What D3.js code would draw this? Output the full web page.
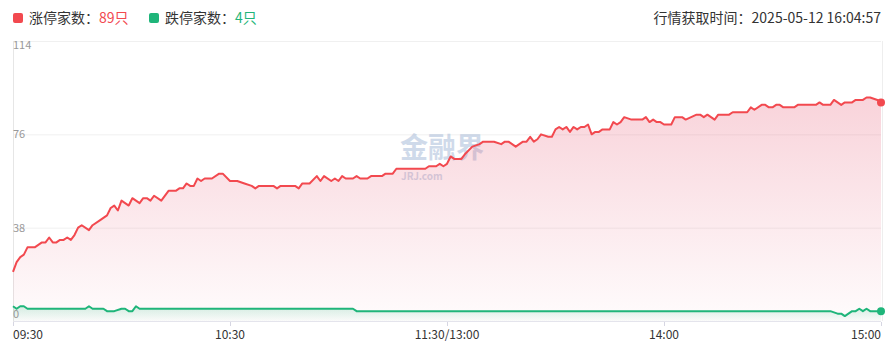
<!DOCTYPE html>
<html>
<head>
<meta charset="utf-8">
<script src="https://cdn.jsdelivr.net/npm/d3@7"></script>
<style>
    body { margin: 0; background: #fff; }
    svg text { font-family: "Noto Sans CJK SC", "Noto Sans", sans-serif; }
</style>
</head>
<body>
<div class="wrapper"></div>
<script>
let width = 891;
let height = 354;

// minutes since 09:30 (trading time, lunch break removed)
let upMinutes = [0, 1, 2, 3, 4, 6, 8, 9, 10, 11, 12, 13, 14, 15, 16, 17, 18, 19, 21, 22, 24, 26, 27, 28, 29, 30,
    32, 33, 35, 36, 37, 38, 39, 41, 43, 45, 46, 47, 48, 49, 50, 51, 52, 53, 55, 57, 58, 60, 62, 64, 66, 67, 68,
    72, 73, 74, 78, 79, 80, 82, 84, 85, 86, 88, 89, 90, 91, 92, 94, 95, 96, 98, 99, 102, 103, 105, 106, 114, 115,
    117, 118, 119, 120, 121, 122, 124, 125, 127, 129, 130, 133, 135, 136, 137, 139, 141, 142, 143, 144, 145, 146,
    148, 149, 150, 151, 152, 153, 154, 155, 156, 157, 158, 159, 160, 161, 162, 163, 165, 166, 167, 168, 169, 171,
    172, 174, 175, 176, 177, 178, 179, 180, 182, 183, 185, 186, 189, 190, 191, 192, 193, 194, 195, 198, 199, 203,
    204, 205, 207, 208, 209, 210, 211, 212, 213, 216, 217, 222, 223, 224, 226, 227, 228, 229, 230, 232, 233, 235,
    236, 237, 239, 240];
let upCounts = [20, 24, 26, 27, 30, 30, 32, 32, 34, 32, 32, 33, 33, 34, 33, 35, 38, 39, 37, 39, 41, 43, 46, 47, 45, 49,
    47, 50, 48, 50, 50, 49, 51, 49, 53, 53, 54, 54, 56, 55, 55, 58, 57, 58, 58, 60, 60, 57, 57, 56, 55, 54, 55,
    55, 54, 55, 55, 54, 56, 56, 59, 57, 59, 57, 58, 57, 59, 58, 58, 59, 58, 58, 59, 59, 60, 60, 62, 62, 63,
    63, 64, 63, 64, 67, 66, 66, 68, 71, 72, 73, 73, 72, 73, 73, 71, 73, 73, 75, 73, 74, 76,
    75, 75, 78, 79, 78, 79, 77, 79, 78, 79, 79, 80, 76, 77, 77, 78, 78, 81, 80, 81, 83, 82,
    82, 82, 83, 81, 82, 81, 81, 80, 80, 83, 83, 82, 84, 84, 83, 84, 83, 82, 84, 84, 85, 85,
    87, 86, 88, 88, 87, 87, 88, 88, 87, 87, 88, 88, 89, 88, 88, 90, 89, 88, 89, 89, 90, 90,
    91, 91, 90, 89];

let downMinutes = [0, 1, 2, 3, 4, 20, 21, 22, 25, 26, 28, 30, 31, 32, 33, 34, 35, 94, 95, 226, 228, 229, 230, 231,
    232, 233, 234, 235, 236, 237, 239, 240];
let downCounts = [6, 5, 6, 6, 5, 5, 6, 5, 5, 4, 4, 5, 5, 4, 4, 6, 5, 5, 4, 4, 3, 3, 2, 3,
    4, 4, 5, 4, 5, 4, 4, 4];

let timeTicks = [0, 60, 120, 180, 240];
let timeLabels = ["09:30", "10:30", "11:30/13:00", "14:00", "15:00"];
let valueTicks = [0, 38, 76, 114];

let upLabel = "涨停家数：";
let downLabel = "跌停家数：";
let upTotal = "89只";
let downTotal = "4只";
let updateText = "行情获取时间：2025-05-12 16:04:57";

let red = "#f2494f";
let green = "#1fb57a";

let svg = d3.select(".wrapper")
    .append("svg")
    .attr("width", width)
    .attr("height", height);

let x = d3.scaleLinear().domain([0, 240]).range([13, 881]);
let y = d3.scaleLinear().domain([0, 114]).range([321, 41]);

// gradients
let defs = svg.append("defs");
let redGrad = defs.append("linearGradient")
    .attr("id", "redFill")
    .attr("gradientUnits", "userSpaceOnUse")
    .attr("x1", 0).attr("x2", 0)
    .attr("y1", y(114)).attr("y2", y(0));
redGrad.append("stop").attr("offset", "0%").attr("stop-color", "#e8607a").attr("stop-opacity", 0.34);
redGrad.append("stop").attr("offset", "100%").attr("stop-color", "#e8607a").attr("stop-opacity", 0.02);

let greenGrad = defs.append("linearGradient")
    .attr("id", "greenFill")
    .attr("gradientUnits", "userSpaceOnUse")
    .attr("x1", 0).attr("x2", 0)
    .attr("y1", y(7)).attr("y2", y(0));
greenGrad.append("stop").attr("offset", "0%").attr("stop-color", green).attr("stop-opacity", 0.22);
greenGrad.append("stop").attr("offset", "100%").attr("stop-color", green).attr("stop-opacity", 0.02);

// grid
svg.append("g")
    .selectAll("line")
    .data(valueTicks)
    .enter()
    .append("line")
    .attr("x1", x(0))
    .attr("x2", x(240))
    .attr("y1", function (d) {return y(d) + 0.5})
    .attr("y2", function (d) {return y(d) + 0.5})
    .attr("stroke", function (d) {return d === 0 ? "#e4e4ec" : "#f0f0f0"});

svg.append("line")
    .attr("x1", x(0) + 0.5).attr("x2", x(0) + 0.5)
    .attr("y1", y(114)).attr("y2", y(0) + 5)
    .attr("stroke", "#e6e6e6");
svg.append("line")
    .attr("x1", x(240) + 1.5).attr("x2", x(240) + 1.5)
    .attr("y1", y(114)).attr("y2", y(0))
    .attr("stroke", "#eeeeee");

// watermark
let mark = svg.append("g").attr("opacity", 0.55);
mark.append("text")
    .attr("x", 400).attr("y", 158)
    .attr("font-size", 28).attr("font-weight", "bold")
    .attr("fill", "#a9bcd9")
    .text("金融界");
mark.append("text")
    .attr("x", 401).attr("y", 180)
    .attr("font-size", 10).attr("font-weight", "bold")
    .attr("fill", "#a9bcd9")
    .text("JRJ.com");

// areas
let upData = upMinutes.map(function (m, i) {return {m: m, v: upCounts[i]}});
let downData = downMinutes.map(function (m, i) {return {m: m, v: downCounts[i]}});

let area = d3.area()
    .x(function (d) {return x(d.m)})
    .y0(y(0))
    .y1(function (d) {return y(d.v)});
let line = d3.line()
    .x(function (d) {return x(d.m)})
    .y(function (d) {return y(d.v)});

svg.append("path").attr("d", area(upData)).attr("fill", "url(#redFill)");
svg.append("path").attr("d", area(downData)).attr("fill", "url(#greenFill)");

svg.append("path")
    .attr("d", line(upData))
    .attr("fill", "none")
    .attr("stroke", red)
    .attr("stroke-width", 2)
    .attr("stroke-linejoin", "round");
svg.append("path")
    .attr("d", line(downData))
    .attr("fill", "none")
    .attr("stroke", green)
    .attr("stroke-width", 2)
    .attr("stroke-linejoin", "round");

svg.append("circle")
    .attr("cx", x(upData[upData.length - 1].m))
    .attr("cy", y(upData[upData.length - 1].v))
    .attr("r", 4).attr("fill", red);
svg.append("circle")
    .attr("cx", x(downData[downData.length - 1].m))
    .attr("cy", y(downData[downData.length - 1].v))
    .attr("r", 4).attr("fill", green);

// y labels
svg.append("g")
    .selectAll("text")
    .data(valueTicks)
    .enter()
    .append("text")
    .attr("x", x(0))
    .attr("y", function (d) {
        if (d === 114) return y(d) + 8;
        if (d === 0) return y(d) - 3;
        return y(d) + 4;
    })
    .attr("font-size", 11)
    .attr("fill", "#999")
    .text(function (d) {return d});

// x axis ticks + labels
let xAxis = svg.append("g");
xAxis.selectAll("line")
    .data(timeTicks)
    .enter()
    .append("line")
    .attr("x1", function (d) {return x(d) + 0.5})
    .attr("x2", function (d) {return x(d) + 0.5})
    .attr("y1", y(0) + 1)
    .attr("y2", y(0) + 5)
    .attr("stroke", "#d6d6e2");
xAxis.selectAll("text")
    .data(timeTicks)
    .enter()
    .append("text")
    .attr("x", function (d) {return x(d)})
    .attr("y", 339)
    .attr("font-size", 12)
    .attr("fill", "#333")
    .attr("text-anchor", function (d, i) {
        if (i === 0) return "start";
        if (i === timeTicks.length - 1) return "end";
        return "middle";
    })
    .text(function (d, i) {return timeLabels[i]});

// header legend
let legend = svg.append("g");
legend.append("rect").attr("x", 13).attr("y", 13).attr("width", 10).attr("height", 10).attr("rx", 2).attr("fill", red);
let t1 = legend.append("text").attr("x", 29).attr("y", 23).attr("font-size", 14).attr("fill", "#333");
t1.append("tspan").text(upLabel);
t1.append("tspan").attr("fill", red).text(upTotal);

legend.append("rect").attr("x", 149).attr("y", 13).attr("width", 10).attr("height", 10).attr("rx", 2).attr("fill", green);
let t2 = legend.append("text").attr("x", 165).attr("y", 23).attr("font-size", 14).attr("fill", "#333");
t2.append("tspan").text(downLabel);
t2.append("tspan").attr("fill", green).text(downTotal);

svg.append("text")
    .attr("x", 881).attr("y", 23)
    .attr("text-anchor", "end")
    .attr("font-size", 14)
    .attr("fill", "#333")
    .text(updateText);
</script>
</body>
</html>
